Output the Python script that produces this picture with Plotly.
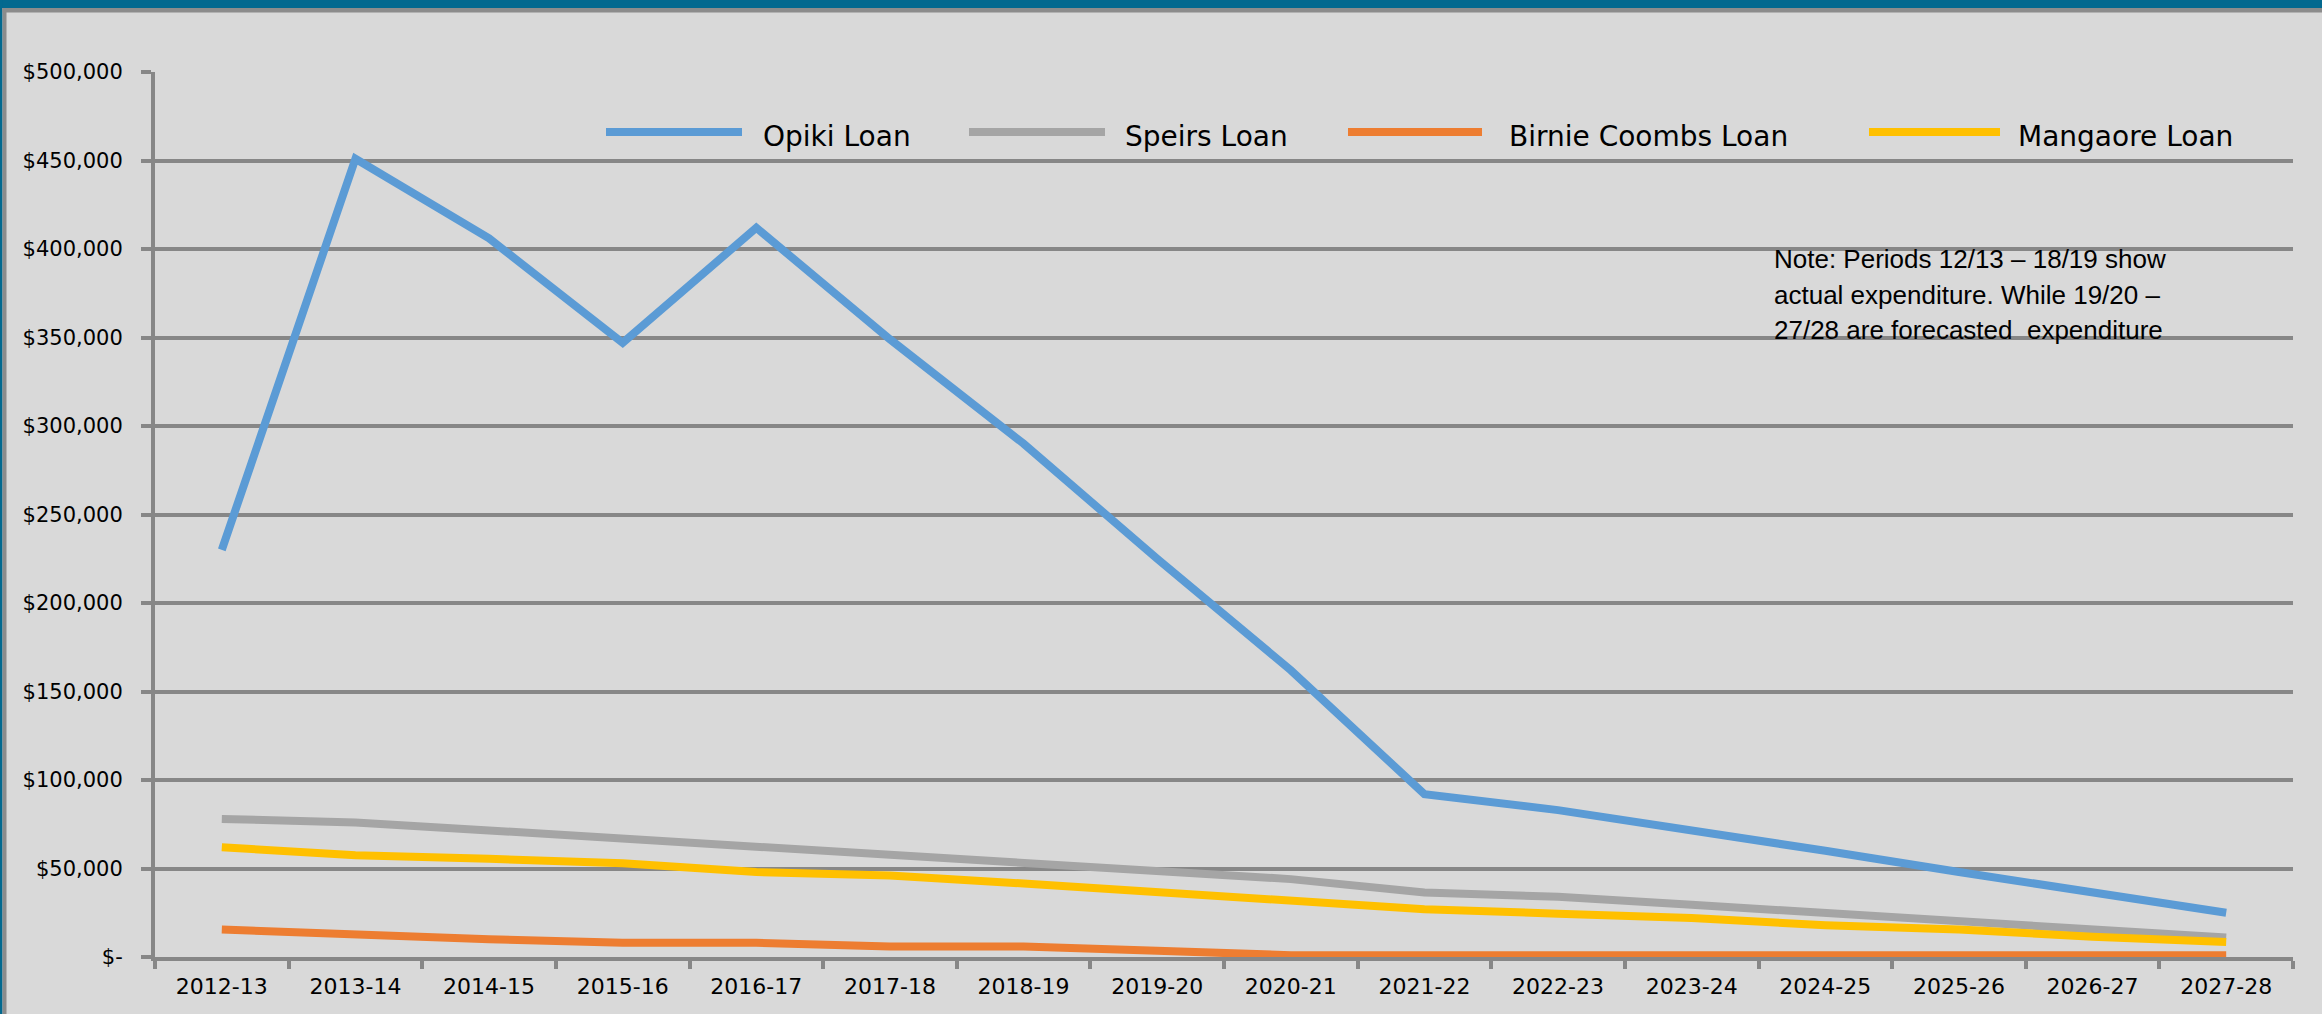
import plotly.graph_objects as go

# financial years
periods = ["2012-13", "2013-14", "2014-15", "2015-16", "2016-17", "2017-18",
           "2018-19", "2019-20", "2020-21", "2021-22", "2022-23", "2023-24",
           "2024-25", "2025-26", "2026-27", "2027-28"]

# loan expenditure, in $
opiki = [230000, 451000, 406000, 347000, 412000, 349000, 290000, 225000,
         162000, 92000, 83000, 72000, 60000, 48000, 36000, 25000]
speirs = [78000, 76000, 71500, 67000, 62500, 57500, 53000, 48000,
          44000, 36500, 34000, 29500, 25000, 20500, 15500, 11000]
birnie = [15500, 12500, 10000, 8000, 8000, 6000, 6000, 3500,
          1000, 1000, 1000, 1000, 1000, 1000, 1000, 1000]
mangaore = [62000, 57500, 55500, 53000, 48000, 46000, 41500, 37000,
            31500, 27000, 24500, 22000, 18000, 15500, 11500, 8500]

names = ["Opiki Loan", "Speirs Loan", "Birnie Coombs Loan", "Mangaore Loan"]
colors = ["#5B9BD5", "#A5A5A5", "#ED7D31", "#FFC000"]

ytick_vals = [0, 50000, 100000, 150000, 200000, 250000, 300000, 350000, 400000, 450000, 500000]
ytick_text = ["$-", "$50,000", "$100,000", "$150,000", "$200,000", "$250,000",
              "$300,000", "$350,000", "$400,000", "$450,000", "$500,000"]

note_lines = ["Note: Periods 12/13 \u2013 18/19 show",
              "actual expenditure. While 19/20 \u2013",
              "27/28 are forecasted  expenditure"]

W, H = 2322, 1014
L, R, T, B = 155, 29, 72, 57
GRID = "#878787"
BG = "#D9D9D9"


def px_x(p):
    return (p - L) / (W - L - R)


def px_y(p):
    return (H - B - p) / (H - T - B)


fig = go.Figure()
for name, vals, col in zip(names, [opiki, speirs, birnie, mangaore], colors):
    fig.add_trace(go.Scatter(x=periods, y=vals, mode="lines", name=name,
                             line=dict(color=col, width=8)))

# hand-drawn legend row (line sample + label)
leg_line_x = [(606, 742), (969, 1105), (1348, 1482), (1869, 2000)]
leg_text_x = [761, 1123, 1507, 2016]
shapes = []
annotations = []
for (x0, x1), tx, name, col in zip(leg_line_x, leg_text_x, names, colors):
    shapes.append(dict(type="line", xref="paper", yref="paper",
                       x0=px_x(x0), x1=px_x(x1), y0=px_y(132), y1=px_y(132),
                       line=dict(color=col, width=8)))
    annotations.append(dict(xref="paper", yref="paper", x=px_x(tx), y=px_y(136),
                            xanchor="left", yanchor="middle", showarrow=False,
                            text=name, font=dict(family="DejaVu Sans", size=28, color="black")))

for i, line in enumerate(note_lines):
    annotations.append(dict(xref="paper", yref="paper", x=px_x(1772), y=px_y(259 + 35.5 * i),
                            xanchor="left", yanchor="middle", showarrow=False,
                            text=line, font=dict(family="Liberation Sans", size=26, color="black")))

# window frame: blue band on top/left, grey border inside
shapes += [
    dict(type="rect", xref="paper", yref="paper", x0=px_x(0), x1=px_x(W), y0=px_y(0), y1=px_y(8),
         fillcolor="#03698F", line=dict(width=0), layer="above"),
    dict(type="rect", xref="paper", yref="paper", x0=px_x(0), x1=px_x(2.5), y0=px_y(0), y1=px_y(H),
         fillcolor="#03698F", line=dict(width=0), layer="above"),
    dict(type="rect", xref="paper", yref="paper", x0=px_x(2.5), x1=px_x(W), y0=px_y(8), y1=px_y(12.5),
         fillcolor="#8C8C8C", line=dict(width=0), layer="above"),
    dict(type="rect", xref="paper", yref="paper", x0=px_x(2.5), x1=px_x(6.5), y0=px_y(8), y1=px_y(H),
         fillcolor="#8C8C8C", line=dict(width=0), layer="above"),
]

fig.update_layout(
    width=W, height=H,
    margin=dict(l=L, r=R, t=T, b=B),
    paper_bgcolor=BG, plot_bgcolor=BG,
    showlegend=False,
    shapes=shapes, annotations=annotations,
    font=dict(family="DejaVu Sans", color="black"),
)
fig.update_xaxes(
    type="category", range=[-0.5, 15.5], tickson="boundaries",
    ticks="outside", ticklen=8, tickwidth=4, tickcolor=GRID,
    showline=True, linecolor=GRID, linewidth=4,
    showgrid=False, tickfont=dict(size=22), ticklabelstandoff=7,
)
fig.update_yaxes(
    range=[0, 500000], tickvals=ytick_vals, ticktext=ytick_text,
    ticks="outside", ticklen=10, tickwidth=4, tickcolor=GRID,
    showline=True, linecolor=GRID, linewidth=4,
    showgrid=True, gridcolor=GRID, gridwidth=4, zeroline=False,
    tickfont=dict(size=21), ticklabelstandoff=14,
)

# page body has a default 8px margin; drop it so the figure fills the window
fig.write_html("out.html", config={"displayModeBar": False},
               post_script="document.body.style.margin='0';")
